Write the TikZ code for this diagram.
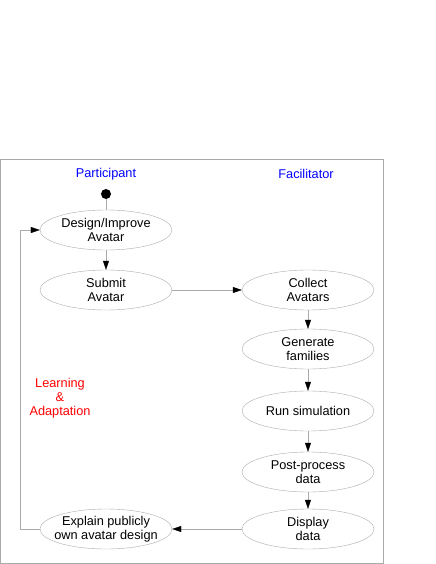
\documentclass[tikz,border=0pt]{standalone}
\usepackage{fontspec}
\setmainfont{Liberation Sans}
\usetikzlibrary{arrows.meta,shapes.geometric}
\definecolor{linegray}{RGB}{170,170,170}

\begin{document}
\begin{tikzpicture}[x=1bp,y=-1bp,
  font=\fontsize{12.8}{14.3}\selectfont,
  activity/.style={ellipse, draw=linegray, minimum width=132bp, minimum height=40bp, inner sep=0pt, align=center},
  flow/.style={draw=linegray, -{Triangle[length=9bp,width=6bp,color=black]}},
  lane/.style={text=blue}]

\useasboundingbox (0,0) rectangle (436,564);

%Kehys
\draw[linegray] (0.5,159) rectangle (383,563);

%Otsikot
\node[lane] (partlbl) at (106,174) {Participant};
\node[lane] (faclbl) at (306,174) {Facilitator};

%Aloituspiste
\node[circle, fill=black, minimum size=10bp, inner sep=0pt] (start) at (106,194) {};

%Osallistuja
\node[activity] (design) at (106,230) {Design/Improve\\Avatar};
\node[activity] (submit) at (106,290) {Submit\\Avatar};
\node[activity, inner xsep=-8bp] (explain) at (106,529) {Explain publicly\\own avatar design};

%Ohjaaja
\node[activity] (collect) at (308,290) {Collect\\Avatars};
\node[activity] (generate) at (308,349) {Generate\\families};
\node[activity] (run) at (308,411) {Run simulation};
\node[activity] (post) at (308,472) {Post-process\\data};
\node[activity] (display) at (308,529) {Display\\data};

%Oppiminen
\node[text=red, align=center, font=\fontsize{12.8}{14}\selectfont] (learn) at (60,398) {Learning\\\&\\Adaptation};

%Nuolet
\draw[linegray] (start) -- (design);
\draw[flow] (design) -- (submit);
\draw[flow] (submit) -- (collect);
\draw[flow] (collect) -- (generate);
\draw[flow] (generate) -- (run);
\draw[flow] (run) -- (post);
\draw[flow] (post) -- (display);
\draw[flow] (display) -- (explain);
\coordinate (loopbot) at (20.5,529);
\coordinate (looptop) at (20.5,230);
\draw[flow] (explain.west) -- (loopbot) -- (looptop) -- (design.west);

\end{tikzpicture}
\end{document}
